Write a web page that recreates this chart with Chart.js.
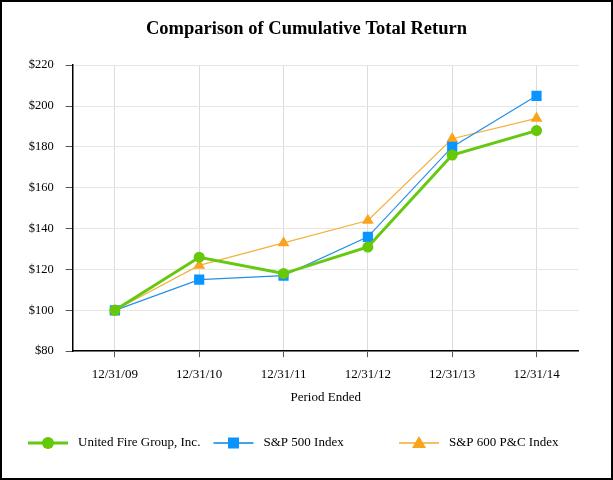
<!DOCTYPE html>
<html>
<head>
<meta charset="utf-8">
<script src="https://cdn.jsdelivr.net/npm/chart.js@4.4.1/dist/chart.umd.min.js"></script>
<style>
html,body{margin:0;padding:0;background:#fff;}
#wrap{width:613px;height:480px;position:relative;}
canvas{display:block;}
</style>
</head>
<body>
<div id="wrap"><canvas id="c" width="613" height="480"></canvas></div>
<script>
const categories = ['12/31/09','12/31/10','12/31/11','12/31/12','12/31/13','12/31/14'];
const unitedFire = [100, 126, 118, 131, 176, 188];
const sp500 = [100, 115, 117, 136, 180, 205];
const sp600pc = [100, 122, 133, 144, 184, 194];
const seriesNames = ['United Fire Group, Inc.', 'S&P 500 Index', 'S&P 600 P&C Index'];
const yMin = 80, yMax = 220, yStep = 20;

const FONT = '"Liberation Serif", "Times New Roman", serif';

const legendPlugin = {
  id: 'lineLegend',
  afterDraw(chart) {
    const ctx = chart.ctx;
    ctx.save();
    chart.data.datasets.forEach((ds, i) => {
      const x0 = 28 + i * 185.5;
      const y = 443;
      ctx.strokeStyle = ds.legendLineColor || ds.borderColor;
      ctx.lineWidth = ds.legendLineWidth;
      ctx.beginPath();
      ctx.moveTo(x0, y);
      ctx.lineTo(x0 + 40, y);
      ctx.stroke();
      const cx = x0 + 20;
      ctx.fillStyle = ds.pointBackgroundColor;
      ctx.beginPath();
      if (ds.pointStyle === 'circle') {
        ctx.arc(cx, y, 6, 0, Math.PI * 2);
      } else if (ds.pointStyle === 'rect') {
        ctx.rect(cx - 5.5, y - 5.5, 11, 11);
      } else {
        ctx.moveTo(cx, y - 7);
        ctx.lineTo(cx + 7, y + 5);
        ctx.lineTo(cx - 7, y + 5);
        ctx.closePath();
      }
      ctx.fill();
      ctx.fillStyle = '#000';
      ctx.font = '13px ' + FONT;
      ctx.textBaseline = 'middle';
      ctx.textAlign = 'left';
      ctx.fillText(ds.label, x0 + 50, y);
    });
    ctx.restore();
  }
};

const borderPlugin = {
  id: 'outerBorder',
  afterDraw(chart) {
    const ctx = chart.ctx;
    ctx.save();
    ctx.strokeStyle = '#000';
    ctx.lineWidth = 2;
    ctx.strokeRect(1, 1, chart.width - 2, chart.height - 2);
    ctx.restore();
  }
};

new Chart(document.getElementById('c'), {
  type: 'line',
  data: {
    labels: categories,
    datasets: [
      {
        label: seriesNames[0],
        data: unitedFire,
        borderColor: '#66c810',
        borderWidth: 3,
        pointStyle: 'circle',
        pointRadius: 5.5,
        pointBackgroundColor: '#66c806',
        pointBorderWidth: 0,
        legendLineWidth: 3
      },
      {
        label: seriesNames[1],
        data: sp500,
        borderColor: '#2490e8',
        borderWidth: 1.2,
        pointStyle: 'rect',
        pointRadius: 7.2,
        pointBackgroundColor: '#0a94ff',
        pointBorderWidth: 0,
        legendLineWidth: 2.2,
        legendLineColor: '#45a0e6'
      },
      {
        label: seriesNames[2],
        data: sp600pc,
        borderColor: '#f2b13e',
        borderWidth: 1.2,
        pointStyle: 'triangle',
        pointRadius: 6.8,
        pointBackgroundColor: '#f8a41c',
        pointBorderWidth: 0,
        legendLineWidth: 2.2,
        legendLineColor: '#f4c060'
      }
    ]
  },
  options: {
    responsive: false,
    animation: false,
    events: [],
    layout: { padding: { left: 0, right: 0, top: 0, bottom: 72.2 } },
    plugins: {
      legend: { display: false },
      tooltip: { enabled: false },
      title: {
        display: true,
        text: 'Comparison of Cumulative Total Return',
        color: '#000',
        font: { family: FONT, size: 18.5, weight: 'bold' },
        padding: { top: 18, bottom: 25 }
      }
    },
    scales: {
      x: {
        offset: true,
        grid: {
          offset: false,
          color: '#dcdcdc',
          lineWidth: 1,
          drawTicks: true,
          tickLength: 6,
          tickColor: '#555'
        },
        border: { color: '#000', width: 1.5 },
        ticks: {
          color: '#000',
          font: { family: FONT, size: 13 },
          padding: 10,
          maxRotation: 0
        },
        title: {
          display: true,
          text: 'Period Ended',
          color: '#000',
          font: { family: FONT, size: 13, lineHeight: 1 },
          padding: { top: -2, bottom: 4 }
        }
      },
      y: {
        min: yMin,
        max: yMax,
        afterFit(scale) { scale.width = 72.7; },
        grid: {
          color: '#e6e6e6',
          lineWidth: 1,
          drawTicks: true,
          tickLength: 7,
          tickColor: '#555'
        },
        border: { color: '#000', width: 1.5 },
        ticks: {
          stepSize: yStep,
          color: '#000',
          font: { family: FONT, size: 12.5 },
          padding: 12,
          callback: v => '$' + v
        }
      },
      spacer: {
        type: 'linear',
        position: 'right',
        min: yMin,
        max: yMax,
        afterFit(scale) { scale.width = 34.3; },
        grid: { display: false, drawTicks: false },
        border: { display: false },
        ticks: { display: false }
      }
    }
  },
  plugins: [legendPlugin, borderPlugin]
});
</script>
</body>
</html>
